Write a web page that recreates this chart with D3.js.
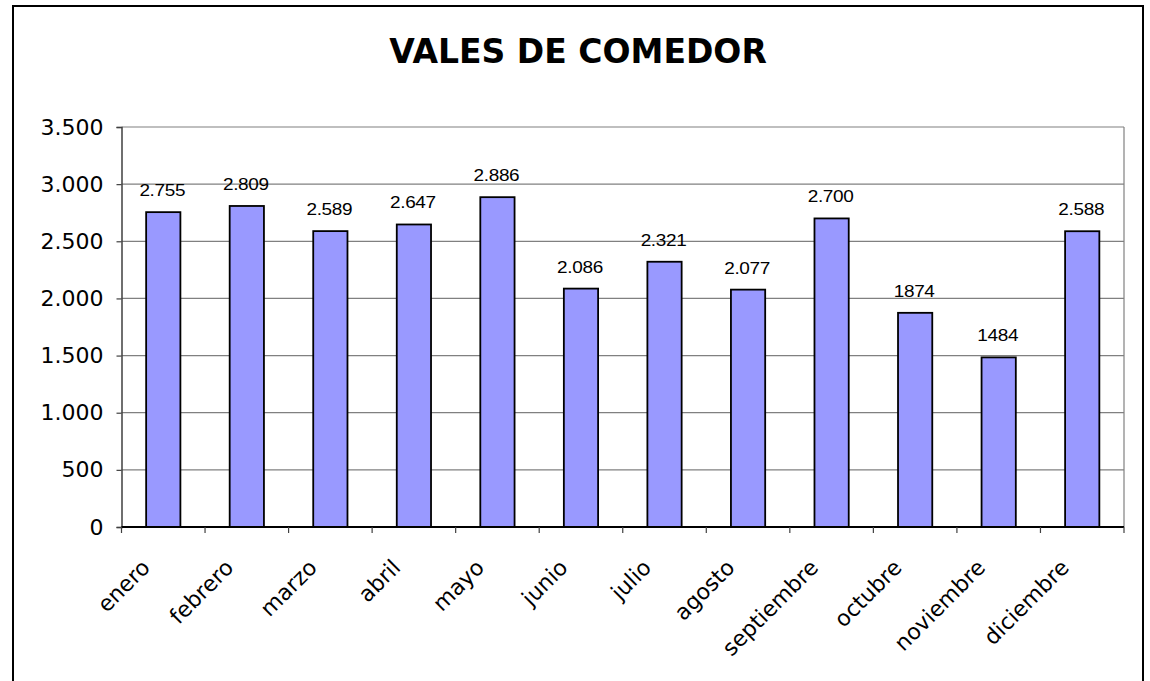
<!DOCTYPE html>
<html><head><meta charset="utf-8">
<script src="https://cdn.jsdelivr.net/npm/d3@7"></script>
<style>body{margin:0;background:#fff}svg{display:block}</style>
</head><body>
<svg id="c" width="1150" height="681"></svg>
<script>
const categories = ["enero","febrero","marzo","abril","mayo","junio","julio","agosto","septiembre","octubre","noviembre","diciembre"];
const values = [2755, 2809, 2589, 2647, 2886, 2086, 2321, 2077, 2700, 1874, 1484, 2588];
const valueLabels = ["2.755","2.809","2.589","2.647","2.886","2.086","2.321","2.077","2.700","1874","1484","2.588"];
const yTicks = [0, 500, 1000, 1500, 2000, 2500, 3000, 3500];
const yTickLabels = ["0","500","1.000","1.500","2.000","2.500","3.000","3.500"];
const title = "VALES DE COMEDOR";

const svg = d3.select("#c");
const L = 121.5, R = 1124, T = 127, B = 527;

// outer frame
svg.append("rect").attr("x",13).attr("y",6).attr("width",1130).attr("height",700)
  .attr("fill","#fff").attr("stroke","#000").attr("stroke-width",2);

svg.append("text").attr("x",578).attr("y",63).attr("text-anchor","middle")
  .attr("font-family","DejaVu Sans, Verdana, sans-serif").attr("font-weight","bold")
  .attr("font-size",33).attr("fill","#000").text(title);

const x = d3.scaleBand().domain(categories).range([L,R]).padding(0);
const y = d3.scaleLinear().domain([0,3500]).range([B,T]);

// gridlines
svg.append("g").selectAll("line").data(yTicks.filter(d=>d>0)).join("line")
  .attr("x1",L).attr("x2",R).attr("y1",d=>y(d)).attr("y2",d=>y(d))
  .attr("stroke","#808080").attr("stroke-width",1.2);
// right border
svg.append("line").attr("x1",R).attr("x2",R).attr("y1",T).attr("y2",B)
  .attr("stroke","#808080").attr("stroke-width",1.2);

// bars
const bw = x.bandwidth()*0.41;
svg.append("g").selectAll("rect").data(values).join("rect")
  .attr("x",(d,i)=>x(categories[i])+x.bandwidth()/2-bw/2)
  .attr("y",d=>y(d)).attr("width",bw).attr("height",d=>B-y(d))
  .attr("fill","#9999FF").attr("stroke","#000").attr("stroke-width",1.8);

// value labels
svg.append("g").selectAll("text").data(values).join("text")
  .attr("transform",(d,i)=>`translate(${x(categories[i])+x.bandwidth()/2-1},${y(d)-16}) scale(1.15,1)`)
  .attr("text-anchor","middle").attr("font-family","Liberation Sans, Arial, sans-serif")
  .attr("font-size",16.5).attr("letter-spacing",-0.3).attr("fill","#000")
  .text((d,i)=>valueLabels[i]);

// y axis
const yAxis = d3.axisLeft(y).tickValues(yTicks).tickSize(5).tickPadding(13)
  .tickFormat((d,i)=>yTickLabels[i]);
const gy = svg.append("g").attr("transform",`translate(${L},0)`).call(yAxis);
gy.select(".domain").attr("stroke","#404040").attr("stroke-width",1.5);
gy.selectAll(".tick line").attr("stroke","#404040").attr("stroke-width",1.2);
gy.selectAll(".tick text").attr("font-family","DejaVu Sans, Verdana, sans-serif")
  .attr("font-size",22).attr("fill","#000");

// x axis
const gx = svg.append("g").attr("transform",`translate(0,${B})`);
gx.append("line").attr("x1",L).attr("x2",R).attr("y1",0).attr("y2",0)
  .attr("stroke","#000").attr("stroke-width",1.8);
const bounds = categories.map(c=>x(c)).concat([R]);
gx.selectAll("line.tk").data(bounds).join("line").attr("class","tk")
  .attr("x1",d=>d).attr("x2",d=>d).attr("y1",0).attr("y2",6)
  .attr("stroke","#404040").attr("stroke-width",1.2);
gx.selectAll("text").data(categories).join("text")
  .attr("transform",d=>`translate(${x(d)+x.bandwidth()/2-12},42) rotate(-45)`)
  .attr("text-anchor","end").attr("font-family","DejaVu Sans, Verdana, sans-serif")
  .attr("font-size",22).attr("fill","#000").text(d=>d);
</script>
</body></html>
